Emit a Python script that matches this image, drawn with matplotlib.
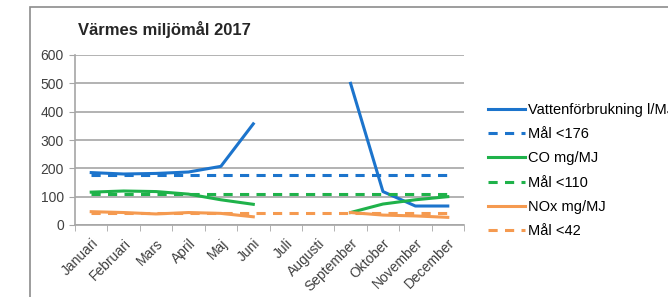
import numpy as np
import matplotlib.pyplot as plt
from matplotlib.patches import Rectangle

plt.rcParams['font.family'] = ['Liberation Sans', 'DejaVu Sans']

months = ["Januari", "Februari", "Mars", "April", "Maj", "Juni", "Juli",
          "Augusti", "September", "Oktober", "November", "December"]
nan = np.nan
vatten = [185, 180, 182, 187, 207, 357, nan, nan, 500, 118, 67, 67]
mal_vatten = [176] * 12
co = [116, 120, 118, 109, 89, 73, nan, nan, 44, 74, 89, 100]
mal_co = [110] * 12
nox = [47, 44, 39, 44, 41, 29, nan, nan, 44, 35, 32, 27]
mal_nox = [42] * 12

blue = "#1c74cc"
green = "#1fb24a"
orange = "#f59a50"
grid = "#a6a6a6"

fig = plt.figure(figsize=(6.68, 2.97), dpi=100)
ax = fig.add_axes([75 / 668, 1 - 225 / 297, (464 - 75) / 668, (225 - 55) / 297])

x = np.arange(len(months))
lw = 2.2
dash = (0, (3, 2.4))
ax.plot(x, vatten, color=blue, lw=lw, label="Vattenförbrukning l/MJ")
ax.plot(x, mal_vatten, color=blue, lw=lw, linestyle=dash, label="Mål <176")
ax.plot(x, co, color=green, lw=lw, label="CO mg/MJ")
ax.plot(x, mal_co, color=green, lw=lw, linestyle=dash, label="Mål <110")
ax.plot(x, nox, color=orange, lw=lw, label="NOx mg/MJ")
ax.plot(x, mal_nox, color=orange, lw=lw, linestyle=dash, label="Mål <42")

ax.set_xlim(-0.5, 11.5)
ax.set_ylim(0, 600)
ax.set_yticks(range(0, 601, 100))
ax.set_xticks(x)
ax.set_xticklabels(months, rotation=45, ha="right", rotation_mode="anchor")
ax.set_xticks(np.arange(-0.5, 12, 1), minor=True)
ax.tick_params(axis="x", which="major", length=0, pad=8, labelsize=10, colors="#404040")
ax.tick_params(axis="x", which="minor", length=4, color=grid)
ax.tick_params(axis="y", length=4, color=grid, pad=4, labelsize=10, labelcolor="#404040")
ax.yaxis.grid(True, color=grid, lw=1.2)
ax.set_axisbelow(True)
for s in ["top", "right"]:
    ax.spines[s].set_visible(False)
for s in ["left", "bottom"]:
    ax.spines[s].set_color(grid)
    ax.spines[s].set_linewidth(1.2)

fig.text(78 / 668, 1 - 29 / 297, "Värmes miljömål 2017", fontsize=12,
         fontweight="bold", color="#262626", va="center")

fig.legend(loc="upper left", bbox_to_anchor=(488 / 668, 1 - 103 / 297),
           frameon=False, fontsize=10.5, handlelength=2.55, handletextpad=0.2,
           labelspacing=0.7, borderaxespad=0, borderpad=0)

fig.patches.append(Rectangle((29.5 / 668, -0.1), 1.2, 1 - 7 / 297 + 0.1,
                             transform=fig.transFigure, fill=False,
                             edgecolor="#8c8c8c", lw=1.2))

fig.savefig("out.png", dpi=100)
